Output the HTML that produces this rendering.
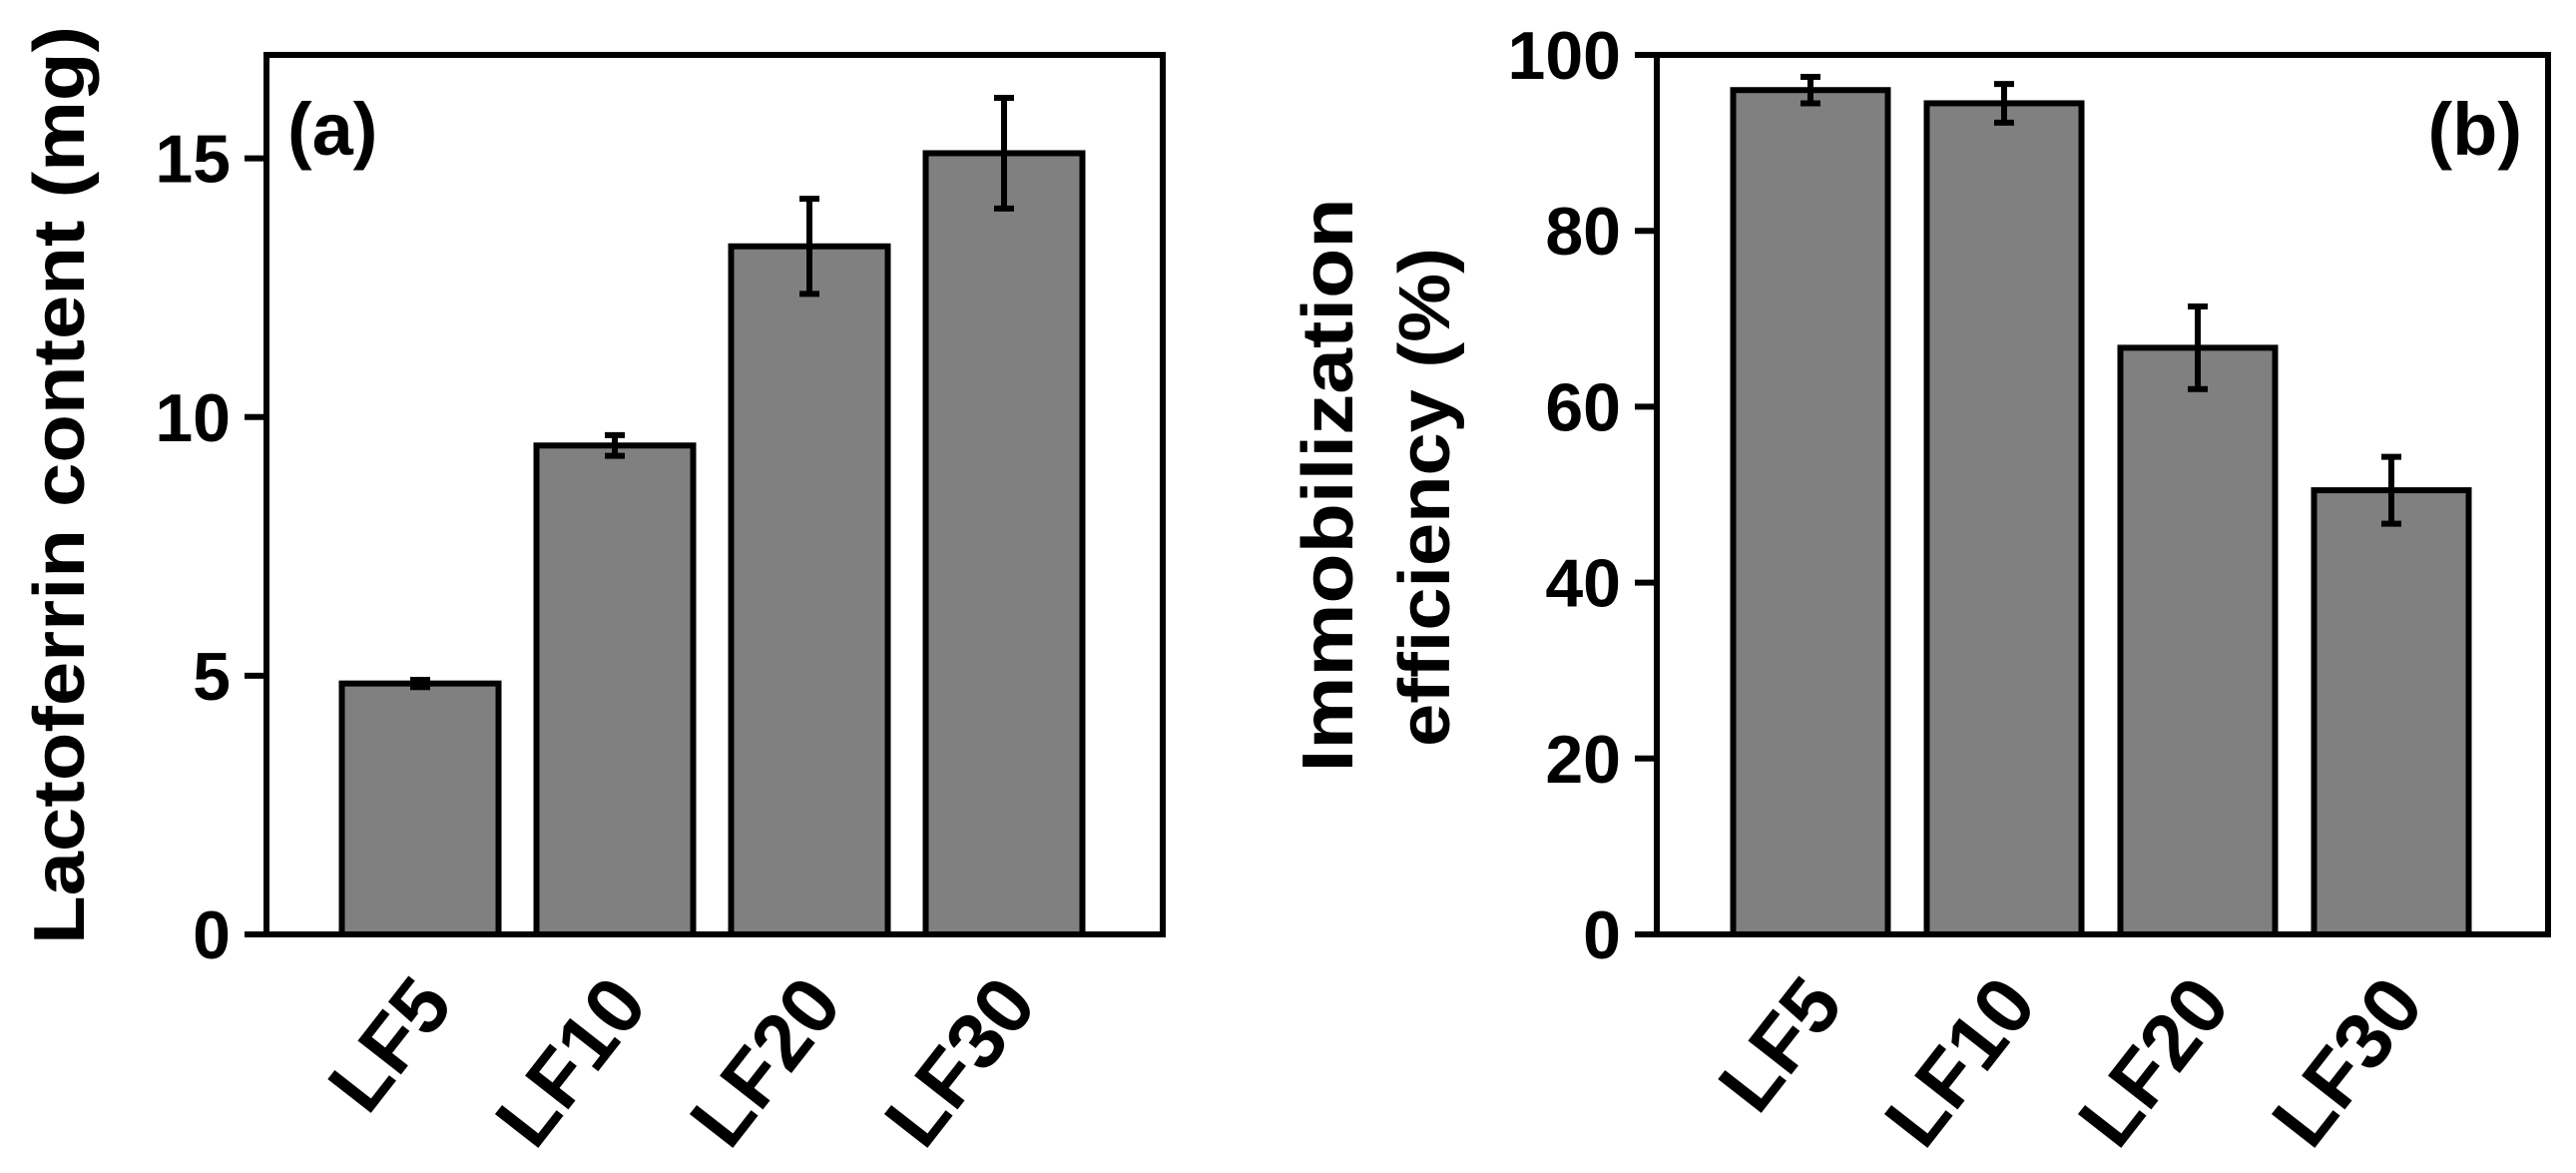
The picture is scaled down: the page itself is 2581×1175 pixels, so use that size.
<!DOCTYPE html>
<html><head><meta charset="utf-8"><style>html,body{margin:0;padding:0;background:#fff}svg{display:block}text{font-family:"Liberation Sans",Arial,sans-serif;font-weight:bold;fill:#000}</style></head>
<body>
<svg id="chart" width="2581" height="1175" viewBox="0 0 2581 1175" xmlns="http://www.w3.org/2000/svg"></svg>
<script>
const categories = ["LF5","LF10","LF20","LF30"];
const contentValues = [4.85, 9.45, 13.3, 15.1];
const contentErrors = [0.07, 0.2, 0.92, 1.07];
const contentTicks = [0, 5, 10, 15];
const efficiencyValues = [96.0, 94.5, 66.7, 50.5];
const efficiencyErrors = [1.5, 2.2, 4.7, 3.8];
const efficiencyTicks = [0, 20, 40, 60, 80, 100];

const NS = "http://www.w3.org/2000/svg";
const svg = document.getElementById("chart");
function mk(tag, attrs, parent) {
  const e = document.createElementNS(NS, tag);
  for (const k in attrs) e.setAttribute(k, attrs[k]);
  (parent || svg).appendChild(e);
  return e;
}

function panel(opt) {
  const g = mk("g", {});
  
  
  const y = v => opt.bottom - v / opt.ymax * (opt.bottom - opt.top);
  const x = i => opt.firstCenter + i * opt.step;
  opt.values.forEach((v, i) => {
    const r = mk("rect", {x: x(i) - opt.barW / 2, y: y(v), width: opt.barW, height: opt.bottom - y(v), fill: "#808080", stroke: "#000", "stroke-width": 6}, g);
    
    
    const e = opt.errors[i];
    const eg = mk("g", {stroke: "#000", "stroke-width": 6}, g);
    
    
    mk("line", {x1: x(i), x2: x(i), y1: y(v + e), y2: y(v - e)}, eg);
    mk("line", {x1: x(i) - 10, x2: x(i) + 10, y1: y(v + e), y2: y(v + e)}, eg);
    mk("line", {x1: x(i) - 10, x2: x(i) + 10, y1: y(v - e), y2: y(v - e)}, eg);
    const t = mk("text", {x: 0, y: 0, "font-size": 80, "text-anchor": "end", transform: `translate(${x(i) + 35},${opt.bottom + 71}) rotate(-52)`}, g);
    t.textContent = categories[i];
    
    
  });
  const f = mk("rect", {x: opt.left, y: opt.top, width: opt.right - opt.left, height: opt.bottom - opt.top, fill: "none", stroke: "#000", "stroke-width": 6}, g);
  
  
  opt.ticks.forEach(tv => {
    const l = mk("line", {x1: opt.left - 22, x2: opt.left, y1: y(tv), y2: y(tv), stroke: "#000", "stroke-width": 6}, g);
    
    
    const t = mk("text", {x: opt.left - 36, y: y(tv) + 24, "font-size": 68, "text-anchor": "end"}, g);
    t.textContent = tv;
    
    
  });
  return g;
}

panel({name: "panel-a", left: 267, right: 1165, top: 55, bottom: 936, ymax: 17, firstCenter: 421, step: 195, barW: 157,
  values: contentValues, errors: contentErrors, ticks: contentTicks});
panel({name: "panel-b", left: 1660, right: 2553, top: 55, bottom: 936, ymax: 100, firstCenter: 1814, step: 194, barW: 155,
  values: efficiencyValues, errors: efficiencyErrors, ticks: efficiencyTicks});

let t;
t = mk("text", {x: 0, y: 0, "font-size": 72, "text-anchor": "middle", textLength: 920, lengthAdjust: "spacingAndGlyphs", transform: "translate(84,486) rotate(-90)"});
t.textContent = "Lactoferrin content (mg)";


t = mk("text", {x: 0, y: 0, "font-size": 72, "text-anchor": "middle", textLength: 575, lengthAdjust: "spacingAndGlyphs", transform: "translate(1355,486) rotate(-90)"});
t.textContent = "Immobilization";


t = mk("text", {x: 0, y: 0, "font-size": 72, "text-anchor": "middle", textLength: 500, lengthAdjust: "spacingAndGlyphs", transform: "translate(1452,498) rotate(-90)"});
t.textContent = "efficiency (%)";


t = mk("text", {x: 288, y: 155, "font-size": 74});
t.textContent = "(a)";


t = mk("text", {x: 2527, y: 155, "font-size": 74, "text-anchor": "end"});
t.textContent = "(b)";


</script>
</body></html>
